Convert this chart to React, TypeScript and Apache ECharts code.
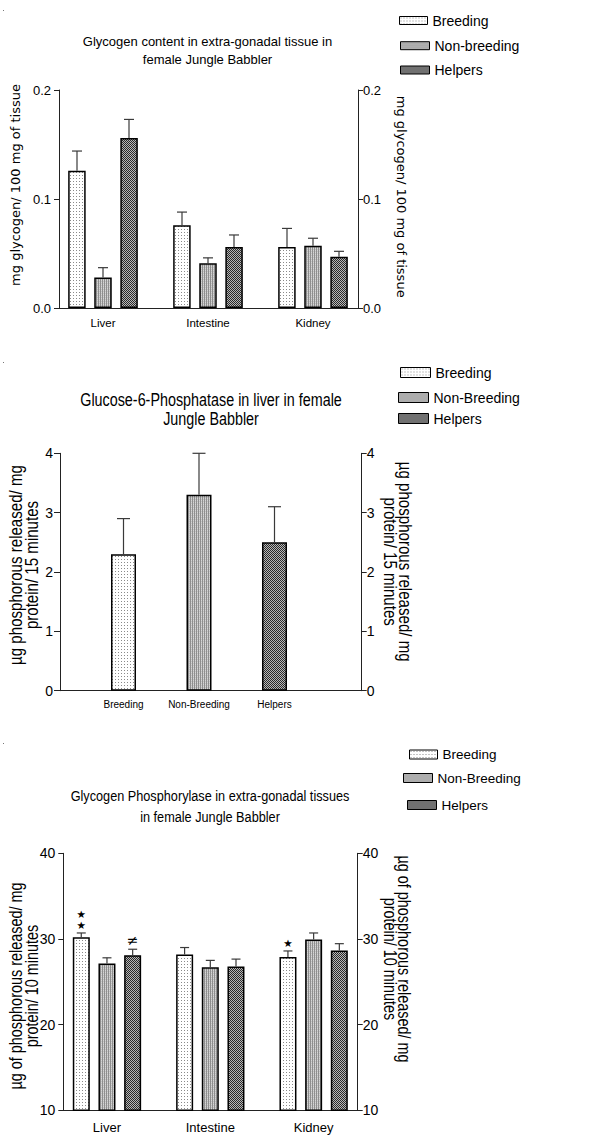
import React, { useEffect, useRef } from "react";
import * as echarts from "echarts";

// ---------- data ----------
const TISSUES = ["Liver", "Intestine", "Kidney"];
const GROUPS_TOP = ["Breeding", "Non-breeding", "Helpers"];
const GROUPS = ["Breeding", "Non-Breeding", "Helpers"];

// Chart 1: Glycogen content (mg glycogen / 100 mg tissue)
const GLY_BREEDING = [0.126, 0.076, 0.056];
const GLY_NONBREEDING = [0.028, 0.041, 0.057];
const GLY_HELPERS = [0.156, 0.056, 0.047];
const GLY_BREEDING_ERR = [0.018, 0.012, 0.017];
const GLY_NONBREEDING_ERR = [0.009, 0.005, 0.007];
const GLY_HELPERS_ERR = [0.017, 0.011, 0.005];
const GLY_TICKS = [0, 0.1, 0.2];

// Chart 2: Glucose-6-Phosphatase in liver
const G6P_VALUES = [2.3, 3.3, 2.5];
const G6P_ERR = [0.6, 0.7, 0.6];
const G6P_TICKS = [0, 1, 2, 3, 4];

// Chart 3: Glycogen Phosphorylase
const GP_BREEDING = [30.2, 28.2, 27.9];
const GP_NONBREEDING = [27.15, 26.7, 29.95];
const GP_HELPERS = [28.1, 26.8, 28.65];
const GP_BREEDING_ERR = [0.5, 0.8, 0.7];
const GP_NONBREEDING_ERR = [0.65, 0.8, 0.75];
const GP_HELPERS_ERR = [0.7, 0.85, 0.8];
const GP_BREEDING_MARK = ["★\n★", "", "★"];
const GP_NONBREEDING_MARK = ["", "", ""];
const GP_HELPERS_MARK = ["≠", "", ""];
const GP_TICKS = [10, 20, 30, 40];

// ---------- styles ----------
const REG = "'Liberation Sans', Arial, sans-serif";
const NARROW_SCALE = 0.82;

function makePattern(w: number, h: number, draw: (ctx: CanvasRenderingContext2D) => void) {
  const c = document.createElement("canvas");
  c.width = w;
  c.height = h;
  const ctx = c.getContext("2d")!;
  draw(ctx);
  return { image: c, repeat: "repeat", imageWidth: w, imageHeight: h } as any;
}

function buildOption() {
  const dotted = makePattern(3, 3, (ctx) => {
    ctx.fillStyle = "#ffffff";
    ctx.fillRect(0, 0, 3, 3);
    ctx.fillStyle = "#8a8a8a";
    ctx.fillRect(1, 1, 1, 1);
  });
  const striped = makePattern(2, 2, (ctx) => {
    ctx.fillStyle = "#d6d6d6";
    ctx.fillRect(0, 0, 2, 2);
    ctx.fillStyle = "#c2c2c2";
    ctx.fillRect(1, 1, 1, 1);
    ctx.fillStyle = "#8e8e8e";
    ctx.fillRect(0, 0, 1, 2);
  });
  const checker = makePattern(2, 2, (ctx) => {
    ctx.fillStyle = "#b8b8b8";
    ctx.fillRect(0, 0, 2, 2);
    ctx.fillStyle = "#2a2a2a";
    ctx.fillRect(0, 0, 1, 1);
    ctx.fillRect(1, 1, 1, 1);
  });
  const fills = [dotted, striped, checker];

  const barStyle = (i: number) => ({ color: fills[i], borderColor: "#000", borderWidth: 1.5 });

  const errSeries = (
    id: string,
    axisIdx: number,
    yIdx: number,
    values: number[],
    errs: number[],
    dx: number,
    capW: number,
    marks?: string[]
  ) => ({
    type: "custom",
    id,
    name: id,
    xAxisIndex: axisIdx,
    yAxisIndex: yIdx,
    z: 5,
    silent: true,
    clip: false,
    data: values.map((v, i) => [i, v, errs[i]]),
    encode: { x: 0, y: 1 },
    renderItem: (params: any, api: any) => {
      const i = api.value(0);
      const v = api.value(1);
      const e = api.value(2);
      const p0 = api.coord([i, v]);
      const p1 = api.coord([i, v + e]);
      const x = p0[0] + dx;
      const st = { stroke: "#3a3a3a", lineWidth: 1.2 };
      const children: any[] = [
        { type: "line", shape: { x1: x, y1: p0[1], x2: x, y2: p1[1] }, style: st },
        { type: "line", shape: { x1: x - capW / 2, y1: p1[1], x2: x + capW / 2, y2: p1[1] }, style: st },
      ];
      const m = marks ? marks[params.dataIndex] : "";
      if (m) {
        const isStar = m.indexOf("★") >= 0;
        children.push({
          type: "text",
          x,
          y: p1[1] - 2,
          style: {
            text: m,
            fontSize: isStar ? 10.5 : 14,
            lineHeight: isStar ? 11 : 14,
            fontFamily: "'DejaVu Sans', sans-serif",
            align: "center",
            verticalAlign: "bottom",
            fill: "#000",
          },
        });
      }
      return { type: "group", children };
    },
  });

  const lineAxisX = (gridIndex: number) => ({
    type: "value",
    gridIndex,
    min: 0,
    max: 1,
    axisLine: { show: true, onZero: false, lineStyle: { color: "#222", width: 1 } },
    axisTick: { show: false },
    axisLabel: { show: false },
    splitLine: { show: false },
  });
  const catAxisX = (gridIndex: number, data: string[], fontSize: number, margin: number) => ({
    type: "category",
    gridIndex,
    data,
    axisLine: { show: false },
    axisTick: { show: false },
    axisLabel: { show: true, fontSize, fontFamily: REG, color: "#000", margin, interval: 0 },
    splitLine: { show: false },
  });
  const valY = (
    gridIndex: number,
    ticks: number[],
    position: "left" | "right",
    fontSize: number,
    margin: number,
    tickLen: number,
    digits: number
  ) => ({
    type: "value",
    gridIndex,
    position,
    min: ticks[0],
    max: ticks[ticks.length - 1],
    interval: ticks[1] - ticks[0],
    axisLine: { show: true, onZero: false, lineStyle: { color: "#222", width: 1 } },
    axisTick: { show: true, length: tickLen, lineStyle: { color: "#222" } },
    axisLabel: {
      show: true,
      fontSize,
      fontFamily: REG,
      color: "#000",
      margin,
      formatter: (v: number) => v.toFixed(digits),
    },
    splitLine: { show: false },
  });
  const hiddenY = (gridIndex: number, ticks: number[]) => ({
    type: "value",
    gridIndex,
    min: ticks[0],
    max: ticks[ticks.length - 1],
    show: false,
  });

  const legendItem = (
    name: string,
    left: number,
    cy: number,
    fontSize: number,
    iw: number,
    ih: number
  ) => ({
    data: [name],
    orient: "vertical",
    left,
    top: cy - (fontSize + 2) / 2,
    itemWidth: iw,
    itemHeight: ih,
    itemGap: 0,
    padding: 0,
    icon: "rect",
    selectedMode: false,
    textStyle: { fontSize, fontFamily: REG, color: "#000", lineHeight: fontSize + 2 },
    itemStyle: { borderColor: "#000", borderWidth: 1 },
  });

  const text = (
    t: string,
    x: number,
    y: number,
    font: string,
    lineHeight: number,
    rotation = 0,
    scaleX = 1
  ) => ({
    type: "text",
    x,
    y,
    rotation,
    scaleX,
    style: { text: t, font, lineHeight, align: "center", verticalAlign: "middle", fill: "#000" },
  });

  const one = (vals: number[], k: number) => vals.map((v, i) => (i === k ? v : "-"));

  return {
    animation: false,
    backgroundColor: "#fff",
    grid: [
      { left: 59, top: 90, width: 299, height: 218, outerBoundsMode: "none" },
      { left: 50.5, top: 90, width: 315, height: 218, outerBoundsMode: "none" },
      { left: 60, top: 453.3, width: 301.7, height: 237.4, outerBoundsMode: "none" },
      { left: 85.75, top: 453.3, width: 226.5, height: 237.4, outerBoundsMode: "none" },
      { left: 63.3, top: 853.3, width: 294.4, height: 257, outerBoundsMode: "none" },
      { left: 55.3, top: 853.3, width: 310, height: 257, outerBoundsMode: "none" },
    ],
    xAxis: [
      lineAxisX(0),
      catAxisX(1, TISSUES, 11.5, 9),
      lineAxisX(2),
      catAxisX(3, GROUPS, 10, 9),
      lineAxisX(4),
      catAxisX(5, TISSUES, 13, 11),
    ],
    yAxis: [
      valY(0, GLY_TICKS, "left", 13, 8, 5, 1),
      valY(0, GLY_TICKS, "right", 13, 5, 5, 1),
      hiddenY(1, GLY_TICKS),
      valY(2, G6P_TICKS, "left", 14, 7, 6, 0),
      valY(2, G6P_TICKS, "right", 14, 5, 5, 0),
      hiddenY(3, G6P_TICKS),
      valY(4, GP_TICKS, "left", 14, 8, 5, 0),
      valY(4, GP_TICKS, "right", 14, 5, 5, 0),
      hiddenY(5, GP_TICKS),
    ],
    legend: [
      legendItem(GROUPS_TOP[0], 399, 20.5, 14, 28, 8),
      legendItem(GROUPS_TOP[1], 400, 45.7, 14, 29, 8),
      legendItem(GROUPS_TOP[2], 400, 70, 14, 29, 8),
      legendItem(GROUPS[0], 400, 372.5, 14, 30, 10),
      legendItem(GROUPS[1], 398, 397.5, 14, 30, 10),
      legendItem(GROUPS[2], 398, 418.5, 14, 30, 10),
      legendItem(GROUPS[0], 409, 754.5, 13.5, 28, 9),
      legendItem(GROUPS[1], 403, 778, 13.5, 29, 9),
      legendItem(GROUPS[2], 407, 805, 13.5, 29, 9),
    ],
    series: [
      // chart 1
      { type: "bar", name: GROUPS_TOP[0], xAxisIndex: 1, yAxisIndex: 2, data: GLY_BREEDING, barWidth: 17.5, barGap: "49%", itemStyle: barStyle(0) },
      { type: "bar", name: GROUPS_TOP[1], xAxisIndex: 1, yAxisIndex: 2, data: GLY_NONBREEDING, barWidth: 17.5, barGap: "49%", itemStyle: barStyle(1) },
      { type: "bar", name: GROUPS_TOP[2], xAxisIndex: 1, yAxisIndex: 2, data: GLY_HELPERS, barWidth: 17.5, barGap: "49%", itemStyle: barStyle(2) },
      errSeries("e1a", 1, 2, GLY_BREEDING, GLY_BREEDING_ERR, -26, 10),
      errSeries("e1b", 1, 2, GLY_NONBREEDING, GLY_NONBREEDING_ERR, 0, 10),
      errSeries("e1c", 1, 2, GLY_HELPERS, GLY_HELPERS_ERR, 26, 10),
      // chart 2
      { type: "bar", name: GROUPS[0], xAxisIndex: 3, yAxisIndex: 5, data: one(G6P_VALUES, 0), barWidth: 25, barGap: "-100%", itemStyle: barStyle(0) },
      { type: "bar", name: GROUPS[1], xAxisIndex: 3, yAxisIndex: 5, data: one(G6P_VALUES, 1), barWidth: 25, barGap: "-100%", itemStyle: barStyle(1) },
      { type: "bar", name: GROUPS[2], xAxisIndex: 3, yAxisIndex: 5, data: one(G6P_VALUES, 2), barWidth: 25, barGap: "-100%", itemStyle: barStyle(2) },
      errSeries("e2", 3, 5, G6P_VALUES, G6P_ERR, 0, 13),
      // chart 3
      { type: "bar", name: GROUPS[0], xAxisIndex: 5, yAxisIndex: 8, data: GP_BREEDING, barWidth: 17, barGap: "51%", itemStyle: barStyle(0) },
      { type: "bar", name: GROUPS[1], xAxisIndex: 5, yAxisIndex: 8, data: GP_NONBREEDING, barWidth: 17, barGap: "51%", itemStyle: barStyle(1) },
      { type: "bar", name: GROUPS[2], xAxisIndex: 5, yAxisIndex: 8, data: GP_HELPERS, barWidth: 17, barGap: "51%", itemStyle: barStyle(2) },
      errSeries("e3a", 5, 8, GP_BREEDING, GP_BREEDING_ERR, -25.7, 9, GP_BREEDING_MARK),
      errSeries("e3b", 5, 8, GP_NONBREEDING, GP_NONBREEDING_ERR, 0, 9, GP_NONBREEDING_MARK),
      errSeries("e3c", 5, 8, GP_HELPERS, GP_HELPERS_ERR, 25.7, 9, GP_HELPERS_MARK),
    ],
    graphic: [
      // titles
      text("Glycogen content in extra-gonadal tissue in\nfemale Jungle Babbler", 207.5, 50.5, `13px ${REG}`, 17.6),
      text("Glucose-6-Phosphatase in liver in female\nJungle Babbler", 211, 409.5, `17.5px ${REG}`, 19, 0, NARROW_SCALE),
      text("Glycogen Phosphorylase in extra-gonadal tissues\nin female Jungle Babbler", 210, 806.2, `15.5px ${REG}`, 21, 0, NARROW_SCALE),
      // axis names chart 1
      text("mg glycogen/ 100 mg of tissue", 15, 185, `13px 'DejaVu Sans', sans-serif`, 15, Math.PI / 2),
      text("mg glycogen/ 100 mg of tissue", 401.7, 196.7, `13px 'DejaVu Sans', sans-serif`, 15, -Math.PI / 2),
      // axis names chart 2
      text("µg phosphorous released/ mg\nprotein/ 15 minutes", 24, 565, `18.4px ${REG}`, 16.3, Math.PI / 2, NARROW_SCALE),
      text("µg phosphorous released/ mg\nprotein/ 15 minutes", 397.5, 561.7, `18.4px ${REG}`, 15, -Math.PI / 2, NARROW_SCALE),
      // axis names chart 3
      text("µg of phosphorous released/ mg\nprotein/ 10 minutes", 23.3, 986, `17.6px ${REG}`, 16.7, Math.PI / 2, NARROW_SCALE),
      text("µg of phosphorous released/ mg\nprotein/ 10 minutes", 397.8, 959, `17.6px ${REG}`, 14.3, -Math.PI / 2, NARROW_SCALE),
      // stray marks
      { type: "rect", shape: { x: 3, y: 10, width: 1, height: 1 }, style: { fill: "#777" } },
      { type: "rect", shape: { x: 3, y: 362, width: 1, height: 1 }, style: { fill: "#777" } },
      { type: "rect", shape: { x: 3, y: 743, width: 1, height: 1 }, style: { fill: "#777" } },
    ],
  };
}

export default function App() {
  const ref = useRef<HTMLDivElement>(null);
  useEffect(() => {
    const chart = echarts.init(ref.current!, null, { renderer: "svg", width: 610, height: 1136 });
    chart.setOption(buildOption() as any);
    return () => chart.dispose();
  }, []);
  return (
    <div
      ref={ref}
      style={{ position: "absolute", left: 0, top: 0, width: 610, height: 1136, background: "#fff" }}
    />
  );
}
